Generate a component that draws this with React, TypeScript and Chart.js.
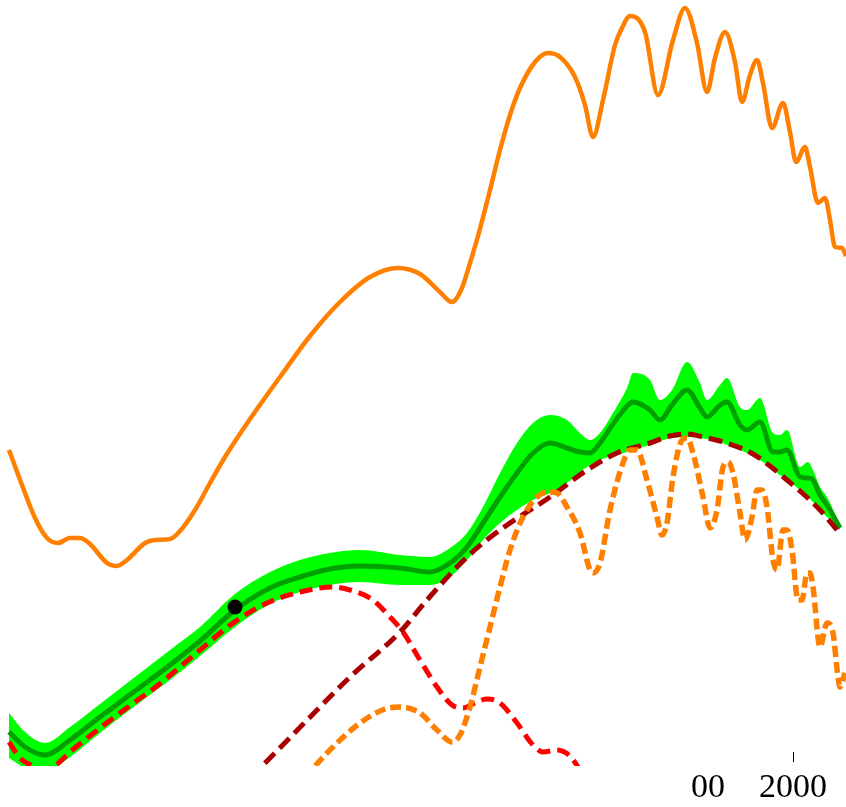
import React, { useEffect, useRef } from "react";
import { Chart, registerables } from "chart.js";

Chart.register(...registerables);

// Axis ticks (only labels visible in the reference)
const tickValues = [708, 793];
const tickLabels = ["00", "2000"];
const tickMarkValues = [793];

// Orange solid curve
const orangeX = [9, 22, 35, 47, 58, 70, 80, 90, 107, 117, 127, 145, 155, 170, 180, 195, 210, 225, 250, 280, 310, 340, 370, 398, 420, 440, 452, 462, 470, 478, 490, 500, 510, 520, 535, 548, 560, 575, 585, 593, 603, 615, 622, 630, 645, 658, 673, 685, 697, 707, 715, 725, 735, 742, 750, 757, 763, 772, 783, 790, 796, 805, 810, 818, 825, 830, 835, 842, 846];
const orangeY = [316, 281, 248, 228, 223, 228, 228, 222, 203, 200, 206, 223, 226, 227, 235, 256, 283, 309, 347, 389, 430, 464, 489, 498, 492, 474, 464, 478, 503, 530, 576, 616, 651, 678, 704, 713, 709, 689, 661, 629, 666, 721, 738, 750, 734, 671, 726, 758, 723, 674, 708, 734, 704, 664, 691, 706, 683, 638, 663, 634, 604, 619, 599, 563, 568, 546, 519, 518, 510];

// Green band (upper / lower) and its central dark-green curve
const bandX = [9, 25, 45, 70, 100, 135, 170, 200, 235, 270, 300, 330, 360, 400, 430, 450, 467, 483, 500, 517, 533, 550, 567, 580, 590, 600, 613, 627, 633, 650, 660, 672, 687, 700, 707, 720, 727, 740, 747, 760, 773, 780, 787, 800, 808, 813, 820, 827, 840];
const bandUpper = [53, 34, 23, 39, 62, 89, 116, 139, 172, 194, 206, 213, 216, 211, 209, 218, 233, 259, 293, 323, 343, 351, 346, 333, 326, 333, 353, 378, 393, 386, 366, 376, 404, 383, 366, 381, 388, 359, 356, 368, 333, 331, 336, 299, 304, 296, 279, 269, 241];
const centralY = [34, 19, 11, 26, 49, 75, 101, 125, 156, 178, 189, 197, 200, 198, 194, 203, 219, 243, 269, 293, 313, 323, 318, 314, 313, 323, 342, 360, 364, 356, 346, 361, 376, 358, 349, 361, 364, 341, 336, 344, 314, 314, 316, 289, 288, 286, 271, 261, 238];
const bandLower = [8, -2, -6, 9, 33, 60, 86, 110, 139, 162, 174, 181, 184, 181, 181, 189, 206, 226, 243, 256, 266, 273, 283, 294, 301, 306, 310, 314, 316, 321, 325, 328, 329, 328, 327, 324, 321, 316, 313, 306, 296, 291, 286, 276, 269, 264, 256, 249, 236];

// Red dashed curve
const redX = [9, 20, 33, 45, 57, 70, 100, 135, 157, 200, 233, 267, 300, 333, 350, 373, 390, 403, 420, 437, 452, 463, 475, 487, 500, 517, 533, 543, 557, 570, 580];
const redY = [24, 8, 0, -3, 2, 14, 38, 64, 80, 116, 143, 163, 174, 179, 176, 166, 149, 134, 106, 79, 61, 58, 63, 67, 63, 43, 21, 14, 16, 10, -4];

// Dark red dashed curve
const darkRedX = [250, 262, 317, 350, 400, 427, 467, 500, 550, 587, 617, 650, 670, 687, 703, 720, 753, 787, 820, 837];
const darkRedY = [-12, 0, 56, 89, 134, 166, 209, 236, 269, 296, 313, 323, 330, 332, 329, 325, 312, 286, 256, 236];

// Orange dashed curve
const orangeDashX = [305, 315, 335, 360, 385, 400, 420, 437, 452, 460, 470, 480, 490, 500, 510, 523, 537, 547, 557, 567, 580, 590, 593, 600, 610, 623, 630, 637, 647, 657, 662, 667, 673, 682, 687, 693, 703, 710, 717, 723, 728, 733, 740, 745, 752, 757, 762, 767, 773, 777, 783, 787, 792, 798, 802, 807, 810, 813, 820, 827, 833, 838, 840, 845];
const orangeDashY = [-12, 0, 21, 43, 57, 59, 53, 36, 24, 31, 59, 99, 139, 179, 216, 249, 269, 274, 273, 259, 233, 196, 193, 203, 256, 303, 316, 316, 286, 249, 231, 243, 289, 326, 328, 313, 269, 238, 256, 299, 304, 293, 253, 226, 249, 276, 276, 259, 206, 196, 236, 236, 216, 166, 166, 193, 193, 179, 119, 143, 133, 89, 79, 93];

// Black marker
const markerX = [235];
const markerY = [159];

const pts = (xs: number[], ys: number[]) => xs.map((x, i) => ({ x, y: ys[i] }));

const tickMarks = {
  id: "tickMarks",
  afterDraw(chart: any) {
    const { ctx, chartArea } = chart;
    const x = chart.scales.x;
    ctx.save();
    ctx.strokeStyle = "#000";
    ctx.lineWidth = 1;
    tickMarkValues.forEach((v) => {
      const px = Math.round(x.getPixelForValue(v)) + 0.5;
      ctx.beginPath();
      ctx.moveTo(px, chartArea.bottom - 14);
      ctx.lineTo(px, chartArea.bottom - 4);
      ctx.stroke();
    });
    ctx.restore();
  },
};

export default function App() {
  const ref = useRef<HTMLCanvasElement | null>(null);

  useEffect(() => {
    if (!ref.current) return;
    const lineBase = {
      type: "line" as const,
      pointRadius: 0,
      fill: false,
      cubicInterpolationMode: "monotone" as const,
      borderJoinStyle: "round" as const,
    };
    const chart = new Chart(ref.current, {
      type: "line",
      data: {
        datasets: [
          {
            ...lineBase,
            label: "band upper",
            data: pts(bandX, bandUpper),
            borderWidth: 0,
            borderColor: "rgba(0,0,0,0)",
            backgroundColor: "rgb(0,255,0)",
            fill: "+1",
            order: 7,
          },
          {
            ...lineBase,
            label: "band lower",
            data: pts(bandX, bandLower),
            borderWidth: 0,
            borderColor: "rgba(0,0,0,0)",
            order: 8,
          },
          {
            ...lineBase,
            label: "central",
            data: pts(bandX, centralY),
            borderColor: "rgb(0,160,0)",
            borderWidth: 5,
            order: 6,
          },
          {
            ...lineBase,
            label: "red",
            data: pts(redX, redY),
            borderColor: "rgb(255,0,0)",
            borderWidth: 5,
            borderDash: [13, 7],
            order: 5,
          },
          {
            ...lineBase,
            label: "dark red",
            data: pts(darkRedX, darkRedY),
            borderColor: "rgb(170,0,0)",
            borderWidth: 5,
            borderDash: [14, 7],
            order: 4,
          },
          {
            ...lineBase,
            label: "orange dashed",
            data: pts(orangeDashX, orangeDashY),
            borderColor: "rgb(255,128,0)",
            borderWidth: 5.5,
            borderDash: [11, 5],
            order: 3,
          },
          {
            ...lineBase,
            label: "orange",
            data: pts(orangeX, orangeY),
            borderColor: "rgb(255,128,0)",
            borderWidth: 4.5,
            order: 2,
          },
          {
            type: "line" as const,
            label: "marker",
            data: pts(markerX, markerY),
            showLine: false,
            pointRadius: 7.5,
            pointBackgroundColor: "#000",
            pointBorderWidth: 0,
            order: 1,
          },
        ],
      },
      options: {
        animation: false,
        responsive: false,
        layout: { padding: 0, autoPadding: false },
        plugins: {
          legend: { display: false },
          tooltip: { enabled: false },
        },
        scales: {
          x: {
            type: "linear",
            min: 0,
            max: 846,
            afterBuildTicks: (scale: any) => {
              scale.ticks = tickValues.map((v) => ({ value: v }));
            },
            afterFit: (scale: any) => {
              scale.height = 41;
            },
            grid: { display: false },
            border: { display: false },
            ticks: {
              autoSkip: false,
              maxRotation: 0,
              minRotation: 0,
              padding: -6,
              color: "#000",
              font: { family: "Liberation Serif", size: 34 },
              callback: (_v: any, i: number) => tickLabels[i],
            },
          },
          y: {
            type: "linear",
            min: 0,
            max: 766,
            display: false,
          },
        },
      },
      plugins: [tickMarks],
    });
    return () => chart.destroy();
  }, []);

  return (
    <div style={{ position: "absolute", left: 0, top: 0, width: 846, height: 807 }}>
      <canvas ref={ref} width={846} height={807} style={{ display: "block" }} />
    </div>
  );
}
